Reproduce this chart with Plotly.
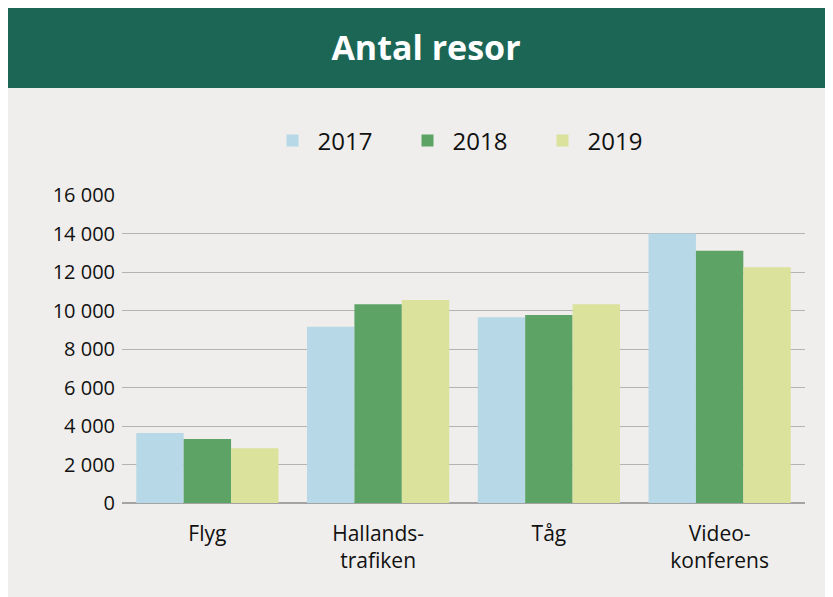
import plotly.graph_objects as go

# data
categories = ["Flyg", "Hallands-<br>trafiken", "Tåg", "Video-<br>konferens"]
years = ["2017", "2018", "2019"]
resor_2017 = [3630, 9160, 9650, 14000]
resor_2018 = [3320, 10330, 9770, 13100]
resor_2019 = [2850, 10550, 10330, 12250]
y_ticks = [0, 2000, 4000, 6000, 8000, 10000, 12000, 14000, 16000]

colors = ["#B7D8E7", "#5DA366", "#DAE29C"]
series = [resor_2017, resor_2018, resor_2019]

# page body adds an 8px offset, so figure coords = screen coords - 8
W, H = 833, 597
L, R, T, B = 114, 36, 187, 102
PW, PH = W - L - R, H - T - B


def px_x(p):
    return (p - L) / PW


def px_y(p):
    return (H - B - p) / PH


fig = go.Figure()
for year, vals, col in zip(years, series, colors):
    fig.add_trace(go.Bar(
        x=categories, y=vals, name=year,
        marker={"color": col, "line": {"width": 0}},
    ))

# dark green header band
header = dict(
    type="rect", xref="paper", yref="paper",
    x0=px_x(-5), x1=px_x(W + 5), y0=px_y(80), y1=px_y(-5),
    fillcolor="#1C6656", line={"width": 0}, layer="below",
)

fig.update_layout(
    width=W, height=H, autosize=False,
    margin={"l": L, "r": R, "t": T, "b": B, "pad": 0},
    paper_bgcolor="#EFEEEC",
    plot_bgcolor="#EFEEEC",
    font={"family": "Open Sans", "color": "#111111"},
    separators=", ",
    barmode="group",
    bargap=0.167,
    bargroupgap=0,
    shapes=[header],
    title={
        "text": "<b>Antal resor</b>",
        "font": {"size": 34, "color": "white", "family": "Open Sans"},
        "x": 418 / W, "xref": "container", "xanchor": "center",
        "y": 1 - 40 / H, "yref": "container", "yanchor": "middle",
    },
    legend={
        "orientation": "h",
        "x": px_x(462), "xanchor": "center",
        "y": px_y(133), "yanchor": "middle",
        "font": {"size": 24},
        "itemwidth": 40,
        "entrywidth": 80,
        "bgcolor": "rgba(0,0,0,0)",
    },
    showlegend=True,
)

fig.update_xaxes(
    showgrid=False, showline=False, zeroline=False, ticks="",
    tickfont={"size": 21},
    ticklabelstandoff=16,
)
fig.update_yaxes(
    range=[0, 16000], tickvals=y_ticks, tickformat=",",
    showgrid=True, gridcolor="#B3B3B3", gridwidth=1.4,
    zeroline=True, zerolinecolor="#A3A3A3", zerolinewidth=1.6,
    showline=False, ticks="",
    tickfont={"size": 20},
    ticklabelstandoff=6,
)

fig.write_html("out.html")
